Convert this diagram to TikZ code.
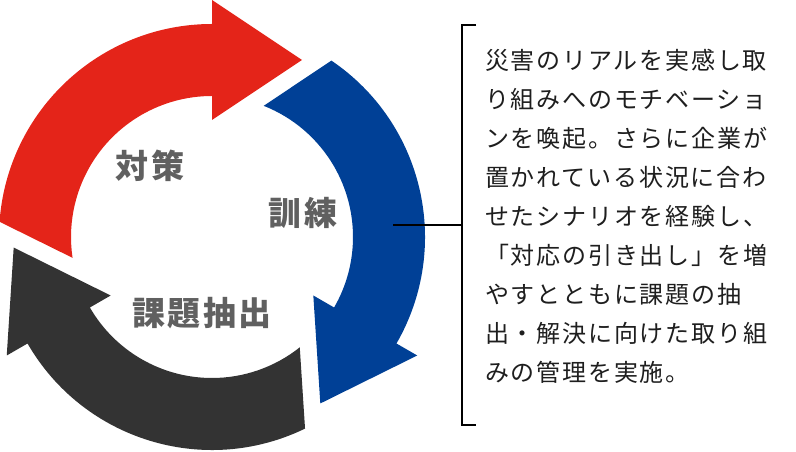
\documentclass[tikz,border=0pt]{standalone}
\usepackage{fontspec}
\setmainfont{Noto Sans CJK JP}
\newfontfamily\bodyfont{Noto Sans CJK JP}[LetterSpace=7.5]
\newfontfamily\labelfont{Noto Sans CJK JP}[LetterSpace=8]
\usetikzlibrary{calc}
\definecolor{cyclered}{HTML}{E42419}
\definecolor{cycleblue}{HTML}{004096}
\definecolor{cyclegray}{HTML}{333333}
\definecolor{labelgray}{HTML}{606060}
\definecolor{textblack}{HTML}{1E1E1E}

\begin{document}
\begin{tikzpicture}[x=1pt,y=1pt,
        steplabel/.style={font=\labelfont\bfseries\fontsize{33}{33}\selectfont, text=labelgray, inner sep=0},
        bracketline/.style={line width=1.3pt, black}]
    \useasboundingbox (0,0) rectangle (796,452);

    % three arrows round the centre, head at \a, going clockwise
    \begin{scope}[shift={(212,215)}]
        \foreach \a/\col in {90/cyclered,-30/cycleblue,210/cyclegray} {
            \fill[\col] ({\a+85.9}:213) arc[start angle=\a+85.9, end angle=\a, radius=213]
                -- (\a:237) -- ({\a-26.95}:198.6) -- (\a:117) -- (\a:141)
                arc[start angle=\a, end angle=\a+98.5, radius=141] -- cycle;
        }
    \end{scope}

    \node[steplabel] (taisaku) at (150,286) {対策};
    \node[steplabel] (kunren) at (303,239) {訓練};
    \node[steplabel] (kadai) at (202,139) {課題抽出};

    % bracket and text
    \coordinate (lead) at (393,227);
    \coordinate (brmid) at (462,227);
    \coordinate (brtop) at (462,427);
    \coordinate (brbot) at (462,27);
    \draw[bracketline] (lead) -- (brmid);
    \draw[bracketline] ($(brtop)+(14,0)$) -- (brtop) -- (brbot) -- ($(brbot)+(14,0)$);

    \node[anchor=north west, align=left, inner sep=0, text=textblack,
        font=\bodyfont\fontsize{24}{39}\selectfont] (desc) at (485,403)
        {災害のリアルを実感し取\\り組みへのモチベーショ\\ンを喚起。さらに企業が\\置かれている状況に合わ\\せたシナリオを経験し、\\「対応の引き出し」を増\\やすとともに課題の抽\\出・解決に向けた取り組\\みの管理を実施。};
\end{tikzpicture}
\end{document}
